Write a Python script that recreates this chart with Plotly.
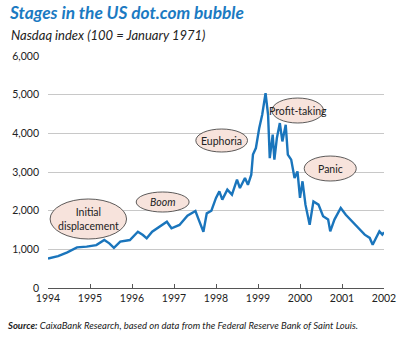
import plotly.graph_objects as go

# Nasdaq index (decimal year, value)
years = [1994.00, 1994.24, 1994.46, 1994.69, 1994.92, 1995.15, 1995.34, 1995.46, 1995.57, 1995.72,
         1995.95, 1996.14, 1996.26, 1996.35, 1996.48, 1996.67, 1996.83, 1996.94, 1997.13, 1997.32,
         1997.51, 1997.59, 1997.70, 1997.78, 1997.89, 1998.00, 1998.08, 1998.15, 1998.27, 1998.38,
         1998.50, 1998.57, 1998.69, 1998.76, 1998.84, 1998.88, 1998.95, 1999.03, 1999.10, 1999.18,
         1999.24, 1999.28, 1999.35, 1999.39, 1999.45, 1999.52, 1999.58, 1999.66, 1999.71, 1999.79,
         1999.87, 1999.94, 2000.00, 2000.06, 2000.13, 2000.23, 2000.32, 2000.44, 2000.55, 2000.67,
         2000.72, 2000.82, 2000.97, 2001.09, 2001.24, 2001.39, 2001.54, 2001.66, 2001.73, 2001.81,
         2001.89, 2001.96, 2002.00]
nasdaq = [760, 825, 920, 1050, 1070, 1110, 1240, 1155, 1040, 1200,
          1240, 1455, 1370, 1285, 1455, 1585, 1715, 1545, 1630, 1870,
          1990, 1760, 1455, 1930, 2000, 2330, 2500, 2285, 2545, 2415,
          2800, 2585, 2845, 2670, 2930, 3450, 3620, 4140, 4480, 5040,
          4480, 3360, 3965, 3320, 3880, 4265, 3790, 4220, 3450, 3320,
          2845, 3015, 2330, 2760, 2155, 1635, 2240, 2155, 1855, 1770,
          1465, 1770, 2070, 1895, 1725, 1550, 1380, 1295, 1120, 1295,
          1465, 1380, 1440]

x_ticks = [1994, 1995, 1996, 1997, 1998, 1999, 2000, 2001, 2002]
y_ticks = [0, 1000, 2000, 3000, 4000, 5000, 6000]

# stage labels: text, x0, x1, y0, y1 (data coords), italic
stages = [
    ("Initial<br>displacement", 1994.05, 1995.87, 1267, 2302, False),
    ("Boom", 1996.10, 1997.36, 1965, 2483, True),
    ("Euphoria", 1997.52, 1998.75, 3517, 4112, False),
    ("Profit-taking", 1999.33, 2000.56, 4267, 4913, False),
    ("Panic", 2000.10, 2001.34, 2767, 3413, False),
]

FONT = "Lato"
W, H = 408, 338
fig = go.Figure()
fig.add_trace(go.Scatter(x=years, y=nasdaq, mode="lines",
                         line=dict(color="#1a75bc", width=2.4), hoverinfo="skip"))

for text, x0, x1, y0, y1, ital in stages:
    fig.add_shape(type="circle", xref="x", yref="y", x0=x0, x1=x1, y0=y0, y1=y1,
                  fillcolor="#f7e3dc", line=dict(color="#333333", width=0.8), layer="above")
    fig.add_annotation(x=(x0 + x1) / 2, y=(y0 + y1) / 2, xref="x", yref="y",
                       text=f"<i>{text}</i>" if ital else text, showarrow=False,
                       font=dict(family=FONT, size=10.5, color="#222222"))

fig.add_annotation(x=-0.115, y=1.09, xref="paper", yref="paper", xanchor="left", yanchor="middle",
                   text="<i>Nasdaq index (100 = January 1971)</i>", showarrow=False,
                   font=dict(family=FONT, size=13, color="#222222"))
fig.add_annotation(x=-0.128, y=-0.16, xref="paper", yref="paper", xanchor="left", yanchor="middle",
                   text="<b><i>Source:</i></b><i> CaixaBank Research, based on data from the Federal Reserve Bank of Saint Louis.</i>",
                   showarrow=False, font=dict(family=FONT, size=9.5, color="#222222"))

fig.update_layout(
    width=W, height=H,
    margin=dict(l=45, r=13, t=56, b=50),
    paper_bgcolor="white", plot_bgcolor="white",
    showlegend=False,
    font=dict(family=FONT, color="#333333"),
    title=dict(text="<b><i>Stages in the US dot.com bubble</i></b>",
               xref="container", yref="container", x=10 / W, y=1 - 13 / H,
               xanchor="left", yanchor="middle",
               font=dict(family=FONT, size=17.3, color="#1b7ac2")),
)
fig.update_xaxes(range=[1994, 2002], tickvals=x_ticks, ticktext=[str(t) for t in x_ticks],
                 showgrid=False, zeroline=False, showline=True, linecolor="#555555", linewidth=1,
                 ticks="inside", ticklen=4, tickcolor="#555555",
                 tickfont=dict(family=FONT, size=10.5, color="#222222"))
fig.update_yaxes(range=[0, 6000], tickvals=y_ticks, tickformat=",d",
                 showgrid=True, gridcolor="#c8c8c8", gridwidth=1, zeroline=False,
                 showline=False, ticks="", ticklabelstandoff=8,
                 tickfont=dict(family=FONT, size=10.5, color="#222222"))

fig.write_html("out.html")
